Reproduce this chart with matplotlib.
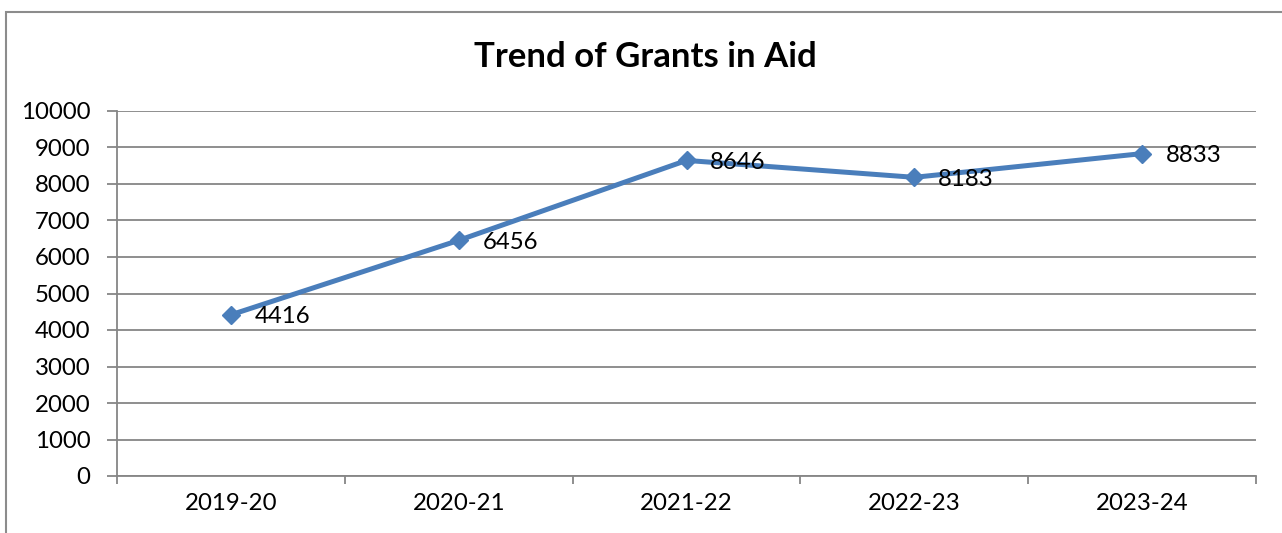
import matplotlib.pyplot as plt
from matplotlib.patches import Rectangle

years = ['2019-20', '2020-21', '2021-22', '2022-23', '2023-24']
grants = [4416, 6456, 8646, 8183, 8833]
y_ticks = list(range(0, 10001, 1000))

plt.rcParams['font.family'] = ['Lato', 'DejaVu Sans']

W, H = 1282, 533
fig = plt.figure(figsize=(W / 100, H / 100), dpi=100)

# chart frame (Excel style)
fig.patches.append(Rectangle((6 / W, -0.1), 1.5, 1.1 - 12 / H, transform=fig.transFigure,
                             fill=False, edgecolor='#8c8c8c', linewidth=1.5))

left, right, top, bottom = 117, 1256, 111, 476
ax = fig.add_axes([left / W, 1 - bottom / H, (right - left) / W, (bottom - top) / H])

x = list(range(len(years)))
ax.plot(x, grants, color='#4a7ebb', linewidth=3.6, marker='D', markersize=9.5,
        markerfacecolor='#4a7ebb', markeredgecolor='#4a7ebb', zorder=3, clip_on=False)
for xi, v in zip(x, grants):
    ax.annotate(str(v), (xi, v), xytext=(17, -1.5), textcoords='offset points',
                ha='left', va='center', fontsize=17.3, color='black')

ax.set_xlim(-0.5, len(years) - 0.5)
ax.set_ylim(0, 10000)
ax.set_yticks(y_ticks)
ax.set_yticklabels([str(t) for t in y_ticks], fontsize=17.3)
ax.set_xticks(x)
ax.set_xticklabels(years, fontsize=17.3)
ax.set_xticks([i - 0.5 for i in range(len(years) + 1)], minor=True)
ax.tick_params(axis='x', which='major', length=0, pad=12)
ax.tick_params(axis='x', which='minor', length=6, width=1.3, color='#868686', direction='out')
ax.tick_params(axis='y', length=7, width=1.3, color='#868686', pad=12)
ax.grid(axis='y', color='#868686', linewidth=1.3)
ax.set_axisbelow(True)
for s in ['top', 'right']:
    ax.spines[s].set_visible(False)
for s in ['left', 'bottom']:
    ax.spines[s].set_color('#868686')
    ax.spines[s].set_linewidth(1.3)

fig.text(645 / W, 1 - 57 / H, 'Trend of Grants in Aid', ha='center', va='center',
         fontsize=25, fontweight='bold')

fig.savefig('out.png', dpi=100)
